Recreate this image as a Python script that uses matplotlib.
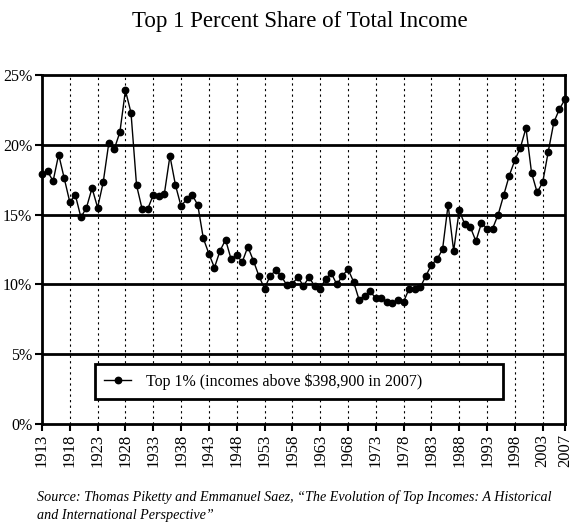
import numpy as np
import matplotlib
matplotlib.use('Agg')
import matplotlib.pyplot as plt

# top 1% share of total income (percent)
years = list(range(1913, 2008))
share = [
    17.9, 18.1, 17.4, 19.3, 17.6, 15.9, 16.4, 14.8, 15.5, 16.9,   # 1913-1922
    15.5, 17.3, 20.1, 19.7, 20.9, 23.9, 22.3, 17.1, 15.4, 15.4,   # 1923-1932
    16.4, 16.3, 16.5, 19.2, 17.1, 15.6, 16.1, 16.4, 15.7, 13.3,   # 1933-1942
    12.2, 11.2, 12.4, 13.2, 11.8, 12.1, 11.6, 12.7, 11.7, 10.6,   # 1943-1952
    9.7, 10.6, 11.0, 10.6, 9.95, 10.05, 10.5, 9.9, 10.5, 9.9,     # 1953-1962
    9.7, 10.4, 10.8, 10.0, 10.6, 11.1, 10.2, 8.9, 9.2, 9.5,       # 1963-1972
    9.0, 9.0, 8.75, 8.7, 8.85, 8.75, 9.7, 9.7, 9.8, 10.6,         # 1973-1982
    11.4, 11.8, 12.5, 15.7, 12.4, 15.3, 14.3, 14.1, 13.1, 14.4,   # 1983-1992
    14.0, 14.0, 15.0, 16.4, 17.8, 18.9, 19.8, 21.2, 18.0, 16.6,   # 1993-2002
    17.3, 19.5, 21.6, 22.55, 23.25,                               # 2003-2007
]

x_ticks = list(range(1913, 2004, 5)) + [2007]
y_ticks = [0, 5, 10, 15, 20, 25]
y_labels = ['0%', '5%', '10%', '15%', '20%', '25%']

title = 'Top 1 Percent Share of Total Income'
legend_text = 'Top 1% (incomes above $398,900 in 2007)'
source = ('Source: Thomas Piketty and Emmanuel Saez, \u201cThe Evolution of Top Incomes: A Historical\n'
          'and International Perspective\u201d')

plt.rcParams['font.family'] = ['Liberation Serif', 'DejaVu Serif']

fig = plt.figure(figsize=(5.83, 5.30), dpi=100)
ax = fig.add_axes([0.072, 0.2, 0.897, 0.6585])

# dotted verticals at the year ticks
for yr in x_ticks[1:-1]:
    ax.axvline(yr, color='black', lw=0.8, ls=(0, (2, 3)), zorder=1)
# solid horizontal gridlines
for v in y_ticks[1:-1]:
    ax.axhline(v, color='black', lw=2, zorder=1)

ax.plot(years, share, color='black', lw=1, marker='o', markersize=4.6, zorder=3,
        clip_on=False, label=legend_text)

ax.set_xlim(1913, 2007)
ax.set_ylim(0, 25)
ax.set_xticks(x_ticks)
ax.set_xticklabels([str(y) for y in x_ticks], rotation=90, fontsize=12)
ax.set_yticks(y_ticks)
ax.set_yticklabels(y_labels, fontsize=11.5)
ax.tick_params(axis='both', direction='out', length=5, width=1.5, color='black', pad=2)

for s in ax.spines.values():
    s.set_linewidth(2)

leg = ax.legend(loc='lower left', bbox_to_anchor=(0.102, 0.073, 0.78, 0.1), mode='expand',
                fontsize=11.5, frameon=True, fancybox=False, handlelength=1.7,
                handletextpad=0.9, borderpad=0.55, borderaxespad=0)
leg.get_frame().set_edgecolor('black')
leg.get_frame().set_linewidth(2)
leg.get_frame().set_alpha(1)

fig.text(0.515, 0.96, title, ha='center', va='center', fontsize=16.5)
fig.text(0.063, 0.045, source, ha='left', va='center', fontsize=10.2, style='italic',
         linespacing=1.5)

fig.savefig('out.png', dpi=100)
